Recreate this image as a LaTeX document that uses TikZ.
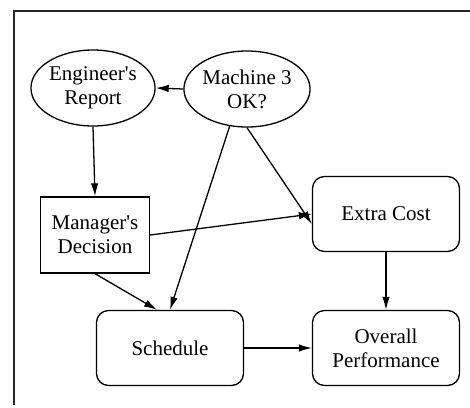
\documentclass[tikz,border=0pt]{standalone}
\usepackage{fontspec}
\setmainfont{Liberation Serif}
\usetikzlibrary{arrows.meta,calc,shapes.geometric}

\tikzset{
  lbl/.style={font=\fontsize{21}{24}\selectfont, align=center, inner sep=0pt},
  chance/.style={lbl, draw, line width=1.3pt, ellipse, minimum width=120pt, minimum height=76pt},
  decision/.style={lbl, draw, line width=1.3pt, rectangle, minimum width=109pt, minimum height=76pt},
  value/.style={lbl, draw, line width=1.3pt, rectangle, rounded corners=12pt, minimum width=147pt, minimum height=75pt},
  link/.style={line width=1.3pt, -{Latex[length=13pt,width=7.5pt]}}
}

\begin{document}
\begin{tikzpicture}[x=1pt, y=-1pt]
  \useasboundingbox (0,0) rectangle (470,407);

  % open frame: top and left edges
  \draw[line width=1.5pt, black!85] (470,11) -- (14,11) -- (14,405);

  % nodes
  \node[chance]   (eng)   at (93,88)   {Engineer\textquotesingle s\\Report};
  \node[chance]   (mach)  at (247,89)  {Machine 3\\OK?};
  \node[decision] (man)   at (95,235)  {Manager\textquotesingle s\\Decision};
  \node[value]    (extra) at (386,214) {Extra Cost};
  \node[value]    (sched) at (170,348) {Schedule};
  \node[value]    (over)  at (386,348) {Overall\\Performance};

  % influences
  \draw[link] (mach.west) -- (eng.east);
  \draw[link] (eng.south) -- (man.north);
  \draw[link] (mach.south) -- ([yshift=-10pt]extra.west);
  \draw[link] (mach.245) -- (sched.north);
  \draw[link] (man.east) -- (extra.west);
  \draw[link] (man.south) -- ([xshift=-13pt]sched.north);
  \draw[link] (extra.south) -- (over.north);
  \draw[link] (sched.east) -- (over.west);
\end{tikzpicture}
\end{document}
